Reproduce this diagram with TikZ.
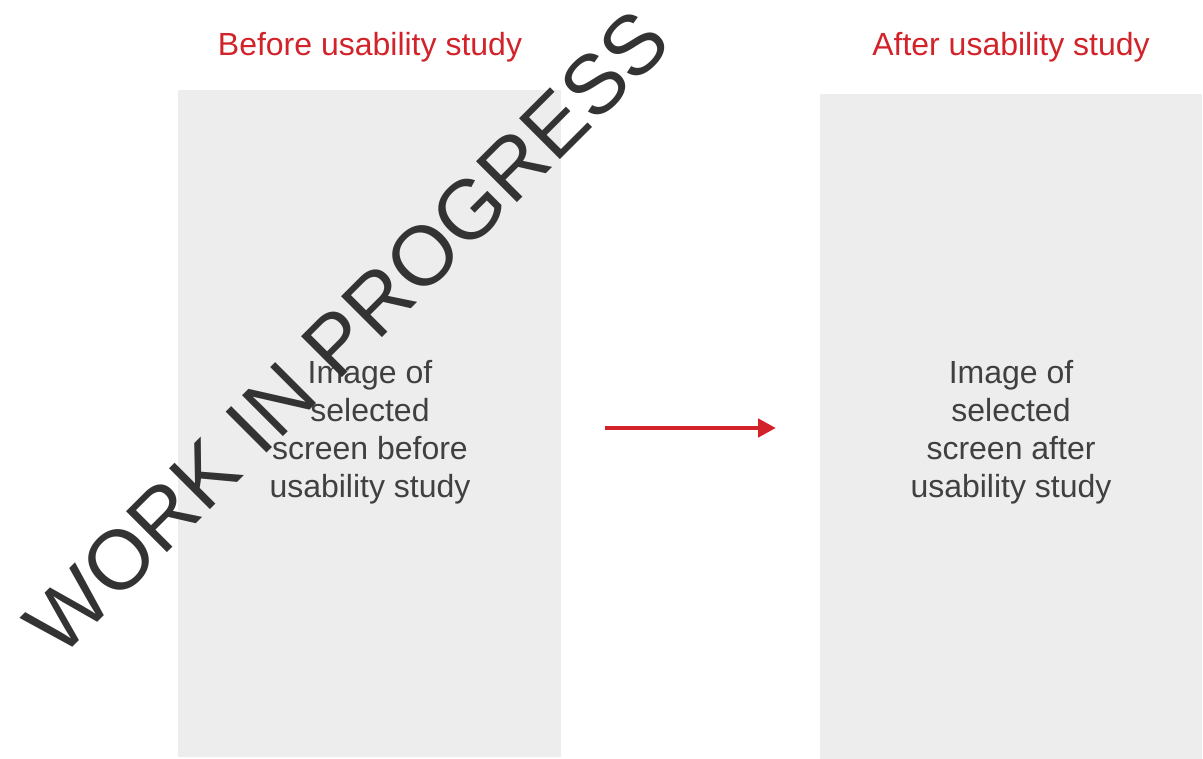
\documentclass[tikz,border=0pt]{standalone}
\usepackage{fontspec}
\setmainfont{Liberation Sans}
\usetikzlibrary{arrows.meta}
\definecolor{accent}{RGB}{210,35,42}
\definecolor{panelgrey}{RGB}{237,237,237}
\definecolor{bodytext}{RGB}{64,64,64}
\definecolor{markgrey}{RGB}{51,51,51}
\tikzset{
  panel/.style={fill=panelgrey, draw=none, inner sep=0pt},
  heading/.style={text=accent, inner sep=0pt, anchor=base, font=\fontsize{32}{38}\selectfont},
  caption/.style={text=bodytext, align=center, inner sep=0pt, font=\fontsize{32}{38}\selectfont},
  watermark/.style={text=markgrey, inner sep=0pt, rotate=45, font=\fontsize{84}{84}\selectfont},
  flow/.style={draw=accent, line width=4.5pt, -{Triangle[length=18pt,width=18pt]}}
}
\begin{document}
\begin{tikzpicture}[x=1pt,y=-1pt]
  \useasboundingbox (0,0) rectangle (1203,759);
  % screen placeholders
  \node[panel, minimum width=383pt, minimum height=667pt] (before) at (369.5,423.5) {};
  \node[panel, minimum width=382pt, minimum height=665pt] (after) at (1011,426.5) {};
  % headings
  \node[heading] (beforetitle) at (370,56) {Before usability study};
  \node[heading] (aftertitle) at (1011,56) {After usability study};
  % placeholder captions
  \node[caption] (beforetext) at (370,432) {Image of\\selected\\screen before\\usability study};
  \node[caption] (aftertext) at (1011,432) {Image of\\selected\\screen after\\usability study};
  % transition arrow
  \coordinate (arrowstart) at (605,428);
  \coordinate (arrowend) at (776,428);
  \draw[flow] (arrowstart) -- (arrowend);
  % draft stamp
  \node[watermark] (stamp) at (347,332) {WORK IN PROGRESS};
\end{tikzpicture}
\end{document}
